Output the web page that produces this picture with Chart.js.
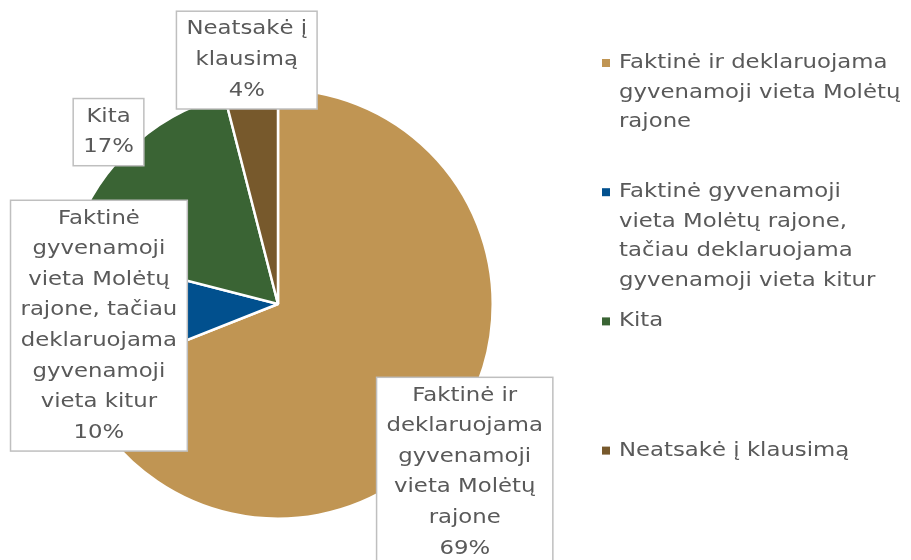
<!DOCTYPE html>
<html>
<head>
<meta charset="utf-8">
<script src="https://cdn.jsdelivr.net/npm/chart.js@4"></script>
<style>
  html, body { margin: 0; padding: 0; background: #ffffff; }
  #wrap { width: 911px; height: 560px; position: relative; }
</style>
</head>
<body>
<div id="wrap"><canvas id="c" width="911" height="560"></canvas></div>
<script>
// ---- data ----
const categories = [
  "Faktinė ir deklaruojama gyvenamoji vieta Molėtų rajone",
  "Faktinė gyvenamoji vieta Molėtų rajone, tačiau deklaruojama gyvenamoji vieta kitur",
  "Kita",
  "Neatsakė į klausimą"
];
const values = [69, 10, 17, 4];
const colors = ["#C09553", "#01508E", "#3A6434", "#77592C"];
const legendLines = [
  ["Faktinė ir deklaruojama", "gyvenamoji vieta Molėtų", "rajone"],
  ["Faktinė gyvenamoji", "vieta Molėtų rajone,", "tačiau deklaruojama", "gyvenamoji vieta kitur"],
  ["Kita"],
  ["Neatsakė į klausimą"]
];
const labelLines = [
  ["Faktinė ir", "deklaruojama", "gyvenamoji", "vieta Molėtų", "rajone"],
  ["Faktinė", "gyvenamoji", "vieta Molėtų", "rajone, tačiau", "deklaruojama", "gyvenamoji", "vieta kitur"],
  ["Kita"],
  ["Neatsakė į", "klausimą"]
];

const FONT = '19px "DejaVu Sans"';
const SX = 1.2;           // horizontal stretch to approximate the wide original typeface
const TEXT = '#595959';

function drawText(ctx, t, x, y) {
  ctx.save();
  ctx.translate(x, y);
  ctx.scale(SX, 1);
  ctx.fillText(t, 0, 0);
  ctx.restore();
}

// label placement: radial factor + angle nudge (deg) relative to slice middle
const labelPlace = [
  { k: 1.17, nudge: 7.8 },
  { k: 0.84, nudge: -3.3 },
  { k: 1.124, nudge: 0.4 },
  { k: 1.145, nudge: -0.1 }
];

const labelPlugin = {
  id: 'boxLabels',
  afterDatasetsDraw(chart) {
    const ctx = chart.ctx;
    const meta = chart.getDatasetMeta(0);
    const total = values.reduce((a, b) => a + b, 0);
    ctx.save();
    ctx.font = FONT;
    ctx.textAlign = 'center';
    ctx.textBaseline = 'middle';
    const lineH = 30.6;
    meta.data.forEach((arc, i) => {
      const p = arc.getProps(['x', 'y', 'startAngle', 'endAngle', 'outerRadius'], true);
      const mid = (p.startAngle + p.endAngle) / 2 + labelPlace[i].nudge * Math.PI / 180;
      const r = p.outerRadius * labelPlace[i].k;
      const cx = p.x + Math.cos(mid) * r;
      const cy = p.y + Math.sin(mid) * r;
      const lines = labelLines[i].concat([Math.round(values[i] / total * 100) + '%']);
      let w = 0;
      lines.forEach(l => { w = Math.max(w, ctx.measureText(l).width * SX); });
      const bw = w + 20;
      const bh = lines.length * lineH + 6;
      const bx = cx - bw / 2, by = cy - bh / 2;
      ctx.fillStyle = '#ffffff';
      ctx.fillRect(bx, by, bw, bh);
      ctx.strokeStyle = '#BFBFBF';
      ctx.lineWidth = 1.5;
      ctx.strokeRect(bx, by, bw, bh);
      ctx.fillStyle = TEXT;
      lines.forEach((l, j) => drawText(ctx, l, cx, by + 3 + lineH * (j + 0.5)));
    });
    ctx.restore();
  }
};

const legendPlugin = {
  id: 'sideLegend',
  afterDraw(chart) {
    const ctx = chart.ctx;
    ctx.save();
    ctx.font = FONT;
    ctx.textAlign = 'left';
    ctx.textBaseline = 'middle';
    const x0 = 602, top = 63, pitch = 129.2, lineH = 29.6;
    categories.forEach((c, i) => {
      const y = top + pitch * i;
      ctx.fillStyle = colors[i];
      ctx.fillRect(x0, y - 4, 8, 8);
      ctx.fillStyle = TEXT;
      legendLines[i].forEach((l, j) => drawText(ctx, l, x0 + 17, y + j * lineH));
    });
    ctx.restore();
  }
};

new Chart(document.getElementById('c'), {
  type: 'pie',
  data: {
    labels: categories,
    datasets: [{
      data: values,
      backgroundColor: colors,
      borderColor: '#ffffff',
      borderWidth: 2.5
    }]
  },
  options: {
    responsive: false,
    animation: false,
    layout: { padding: { left: 62, right: 417, top: 88, bottom: 40 } },
    plugins: {
      legend: { display: false },
      tooltip: { enabled: false }
    }
  },
  plugins: [labelPlugin, legendPlugin]
});
</script>
</body>
</html>
